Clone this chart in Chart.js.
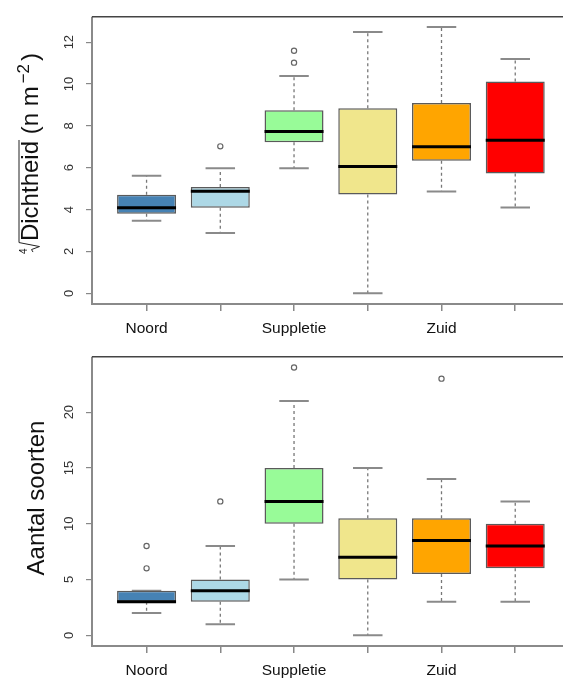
<!DOCTYPE html>
<html><head><meta charset="utf-8">
<script src="https://cdn.jsdelivr.net/npm/chart.js@4.4.1/dist/chart.umd.min.js"></script>
<style>
html,body{margin:0;padding:0;background:#fff;overflow:hidden;width:563px;height:682px;}
.wrap{position:relative;width:575px;overflow:visible;}
canvas{display:block;}
</style></head><body>
<div class="wrap"><canvas id="c1" width="575" height="340"></canvas></div>
<div class="wrap"><canvas id="c2" width="575" height="342"></canvas></div>
<script>
// ---------- data ----------
const groupPos = [1, 2, 3, 4, 5, 6];
const tickLabels = ["Noord", "", "Suppletie", "", "Zuid", ""];
const boxColors = ["#4682B4", "#ADD8E6", "#98FB98", "#F0E68C", "#FFA500", "#FF0000"];

// Panel 1: fourth-root density
const densTicks = [0, 2, 4, 6, 8, 10, 12];
const densMin = [3.47, 2.88, 5.97, 0.00, 4.86, 4.10];
const densQ1  = [3.80, 4.09, 7.22, 4.72, 6.33, 5.73];
const densMed = [4.09, 4.88, 7.73, 6.06, 7.00, 7.31];
const densQ3  = [4.71, 5.08, 8.74, 8.84, 9.09, 10.12];
const densMax = [5.62, 5.97, 10.38, 12.48, 12.72, 11.19];
const densOut = [[], [7.02], [11.02, 11.59], [], [], []];

// Panel 2: number of species
const sppTicks = [0, 5, 10, 15, 20];
const sppMin = [2, 1, 5, 0, 3, 3];
const sppQ1  = [3, 3, 10, 5, 5.5, 6];
const sppMed = [3, 4, 12, 7, 8.5, 8];
const sppQ3  = [4, 5, 15, 10.5, 10.5, 10];
const sppMax = [4, 8, 21, 15, 14, 12];
const sppOut = [[6, 8], [12], [24], [], [23], []];

// ---------- helpers ----------
const FONT = '"Liberation Sans", Arial, Helvetica, sans-serif';
const BOX_HALF = 0.4, CAP_HALF = 0.2;

function segments(list) {
  const pts = [];
  list.forEach(s => { pts.push({x: s[0], y: s[1]}, {x: s[2], y: s[3]}, {x: s[2], y: null}); });
  return pts;
}

const framePlugin = {
  id: 'frame',
  afterDraw(chart) {
    const {ctx, chartArea: {left, top, right, bottom}} = chart;
    ctx.save();
    ctx.strokeStyle = '#8a8a8a'; ctx.lineWidth = 2;
    ctx.beginPath(); ctx.moveTo(left, top); ctx.lineTo(left, bottom); ctx.lineTo(right, bottom); ctx.stroke();
    ctx.strokeStyle = '#444'; ctx.lineWidth = 1.5;
    ctx.beginPath(); ctx.moveTo(left, top); ctx.lineTo(right, top); ctx.lineTo(right, bottom); ctx.stroke();
    ctx.restore();
  }
};

function densTitle(chart) {
  const ctx = chart.ctx;
  ctx.save();
  const base = 38, cy = 153, f = 24, fs = 17;
  ctx.font = f + 'px ' + FONT;
  const wD = ctx.measureText('Dichtheid').width;
  const wM = ctx.measureText(' (n m').width;
  const wC = ctx.measureText(')').width;
  ctx.font = fs + 'px ' + FONT;
  const wS = ctx.measureText('\u22122').width;
  const wR = 12, g1 = 3, g2 = 3;
  const total = wR + wD + wM + g1 + wS + g2 + wC;
  ctx.translate(base, cy);
  ctx.rotate(-Math.PI / 2);
  let x = -total / 2;
  ctx.fillStyle = '#111'; ctx.strokeStyle = '#222'; ctx.lineWidth = 1;
  ctx.textBaseline = 'alphabetic'; ctx.textAlign = 'left';
  // root index
  ctx.font = '10px ' + FONT;
  ctx.fillText('4', x - 1, -11);
  // radical sign + vinculum
  ctx.beginPath();
  ctx.moveTo(x + 1, -5); ctx.lineTo(x + 3.5, -6.5); ctx.lineTo(x + 6.5, 1.5);
  ctx.lineTo(x + 10.5, -19); ctx.lineTo(x + wR + wD + 1, -19);
  ctx.stroke();
  x += wR;
  ctx.font = f + 'px ' + FONT;
  ctx.fillText('Dichtheid', x, 0); x += wD;
  ctx.fillText(' (n m', x, 0); x += wM + g1;
  ctx.font = fs + 'px ' + FONT;
  ctx.fillText('\u22122', x, -9); x += wS + g2;
  ctx.font = f + 'px ' + FONT;
  ctx.fillText(')', x, 0);
  ctx.restore();
}

function sppTitle(chart) {
  const ctx = chart.ctx;
  ctx.save();
  ctx.translate(44, 158);
  ctx.rotate(-Math.PI / 2);
  ctx.font = '24px ' + FONT;
  ctx.fillStyle = '#111';
  ctx.textAlign = 'center'; ctx.textBaseline = 'alphabetic';
  ctx.fillText('Aantal soorten', 0, 0);
  ctx.restore();
}

function makeBoxChart(id, mins, q1s, meds, q3s, maxs, outs, yTicks, yMin, yMax, titleFn) {
  const boxData = groupPos.map((p, i) => ({x: p, y: [q1s[i], q3s[i]]}));
  const whisk = [], caps = [], medl = [], outPts = [];
  groupPos.forEach((p, i) => {
    if (maxs[i] > q3s[i]) whisk.push([p, q3s[i], p, maxs[i]]);
    if (mins[i] < q1s[i]) whisk.push([p, q1s[i], p, mins[i]]);
    caps.push([p - CAP_HALF, maxs[i], p + CAP_HALF, maxs[i]]);
    caps.push([p - CAP_HALF, mins[i], p + CAP_HALF, mins[i]]);
    medl.push([p - BOX_HALF, meds[i], p + BOX_HALF, meds[i]]);
    outs[i].forEach(v => outPts.push({x: p, y: v}));
  });
  const titlePlugin = {id: 'ytitle', afterDraw: titleFn};
  return new Chart(document.getElementById(id), {
    type: 'bar',
    data: {
      datasets: [
        {type: 'line', data: segments(whisk), borderColor: '#777', borderWidth: 1.3, borderDash: [3, 3],
         pointRadius: 0, spanGaps: false, order: 5},
        {type: 'line', data: segments(caps), borderColor: '#8a8a8a', borderWidth: 2,
         pointRadius: 0, spanGaps: false, order: 4},
        {type: 'bar', data: boxData, backgroundColor: boxColors, borderColor: '#5a5a5a', borderWidth: 1.5,
         borderSkipped: false, barPercentage: 1, categoryPercentage: 0.8, order: 3},
        {type: 'line', data: segments(medl), borderColor: '#000', borderWidth: 3, borderCapStyle: 'butt',
         pointRadius: 0, spanGaps: false, order: 1},
        {type: 'line', data: outPts, showLine: false, pointRadius: 2.6, pointBorderWidth: 1.2,
         pointBorderColor: '#666', pointBackgroundColor: 'rgba(255,255,255,0)', order: 0}
      ]
    },
    options: {
      responsive: false, animation: false, devicePixelRatio: 1,
      layout: {padding: {top: 9, right: 4, left: 0, bottom: 0}},
      plugins: {legend: {display: false}, tooltip: {enabled: false}},
      scales: {
        x: {
          type: 'linear', min: 0.26, max: 6.74, offset: false,
          grid: {display: true, drawOnChartArea: false, drawTicks: true, tickLength: 7, color: '#888', lineWidth: 1.5, offset: false},
          border: {display: false},
          afterBuildTicks: s => { s.ticks = groupPos.map(v => ({value: v})); },
          afterFit: s => { s.height = 36; },
          ticks: {autoSkip: false, maxRotation: 0, minRotation: 0, padding: 8, color: '#111',
                  font: {family: FONT, size: 15.5}, callback: (v, i) => tickLabels[i]}
        },
        y: {
          type: 'linear', min: yMin, max: yMax,
          grid: {display: true, drawOnChartArea: false, drawTicks: true, tickLength: 6, color: '#888', lineWidth: 1.2},
          border: {display: false},
          afterBuildTicks: s => { s.ticks = yTicks.map(v => ({value: v})); },
          afterFit: s => { s.width = 92; },
          ticks: {autoSkip: false, minRotation: 90, maxRotation: 90, crossAlign: 'center', padding: 9,
                  color: '#333', font: {family: FONT, size: 13}}
        }
      }
    },
    plugins: [framePlugin, titlePlugin]
  });
}

makeBoxChart('c1', densMin, densQ1, densMed, densQ3, densMax, densOut, densTicks, -0.51, 13.21, densTitle);
makeBoxChart('c2', sppMin, sppQ1, sppMed, sppQ3, sppMax, sppOut, sppTicks, -0.96, 24.96, sppTitle);
</script>
</body></html>
